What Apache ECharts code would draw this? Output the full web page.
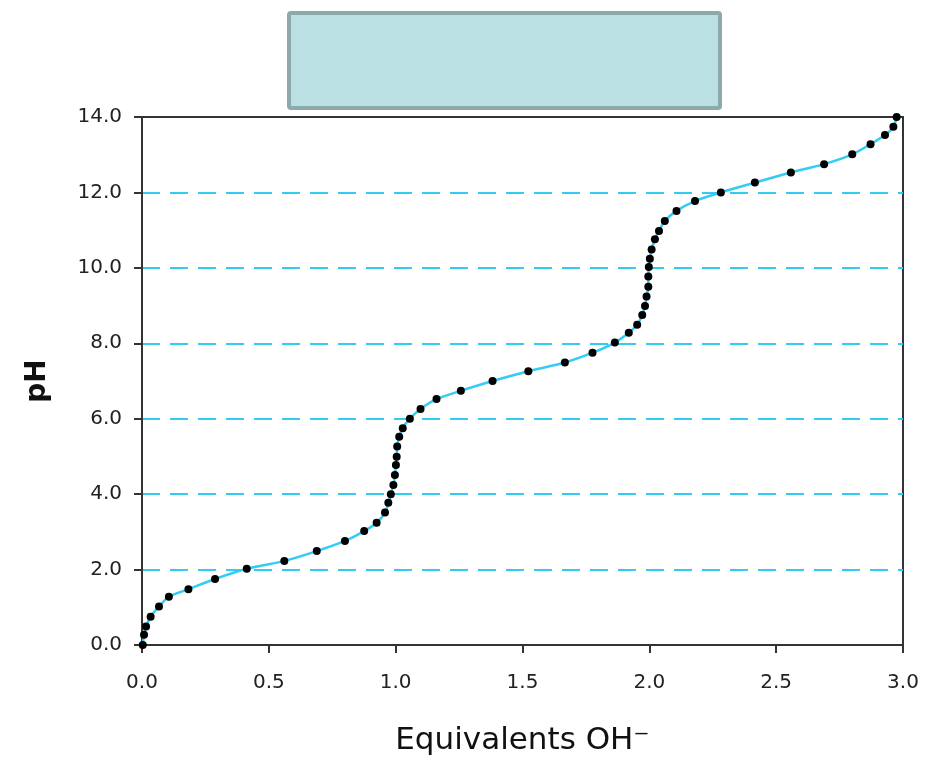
<!DOCTYPE html>
<html>
<head>
<meta charset="UTF-8">
<title>Titration curve</title>
<script src="https://cdn.jsdelivr.net/npm/echarts@6/dist/echarts.min.js"></script>
<style>
  html, body { margin: 0; padding: 0; background: #fff; }
  #chart { width: 929px; height: 761px; }
</style>
</head>
<body>
<div id="chart"></div>
<script>
// equivalents of OH- added
var equivalents = [0.003, 0.008, 0.016, 0.034, 0.067, 0.106, 0.183, 0.288, 0.413, 0.561, 0.689, 0.80,
    0.876, 0.925, 0.958, 0.971, 0.981, 0.991, 0.997, 1.001, 1.004, 1.006, 1.014, 1.028, 1.056, 1.098,
    1.161, 1.257, 1.382, 1.523, 1.667, 1.776, 1.864, 1.919, 1.952, 1.972, 1.983, 1.989, 1.996, 1.996,
    1.998, 2.002, 2.009, 2.022, 2.038, 2.061, 2.107, 2.180, 2.282, 2.416, 2.558, 2.689, 2.80, 2.872,
    2.929, 2.962, 2.975];
// measured pH
var pH = [0.0, 0.27, 0.49, 0.75, 1.02, 1.28, 1.48, 1.75, 2.02, 2.23, 2.49, 2.76,
    3.02, 3.24, 3.51, 3.77, 4.0, 4.24, 4.51, 4.77, 4.99, 5.26, 5.52, 5.75, 6.0, 6.26,
    6.52, 6.74, 7.0, 7.26, 7.49, 7.75, 8.02, 8.28, 8.49, 8.75, 8.99, 9.24, 9.50, 9.77,
    10.02, 10.24, 10.49, 10.76, 10.98, 11.24, 11.51, 11.77, 12.0, 12.26, 12.53, 12.75, 13.01, 13.28,
    13.52, 13.74, 14.0];

var points = [];
for (var i = 0; i < equivalents.length; i++) {
    points.push([equivalents[i], pH[i]]);
}

var chart = echarts.init(document.getElementById('chart'));
var labelFont = 'DejaVu Sans, Verdana, sans-serif';

chart.setOption({
    animation: false,
    grid: {
        left: 142, right: 26, top: 117, bottom: 116,
        outerBoundsMode: 'none',
        show: true, borderColor: '#333', borderWidth: 2, backgroundColor: '#fff'
    },
    // empty title box above the plot
    graphic: [{
        type: 'rect',
        shape: { x: 289, y: 13, width: 431, height: 95, r: 2 },
        style: { fill: '#bae0e3', stroke: '#8ea9aa', lineWidth: 4 }
    }],
    xAxis: {
        type: 'value', min: 0, max: 3, interval: 0.5,
        name: 'Equivalents OH\u207B', nameLocation: 'middle', nameGap: 80,
        nameTextStyle: { fontSize: 31, color: '#111', fontFamily: labelFont },
        axisLine: { show: true, lineStyle: { color: '#333', width: 2 } },
        axisTick: { show: true, length: 8, lineStyle: { color: '#333', width: 2 } },
        axisLabel: {
            color: '#222', fontSize: 20, margin: 28, fontFamily: labelFont,
            formatter: function (v) { return v.toFixed(1); }
        },
        splitLine: { show: false }
    },
    yAxis: {
        type: 'value', min: 0, max: 14, interval: 2,
        name: 'pH', nameLocation: 'middle', nameGap: 90, nameRotate: 90,
        nameTextStyle: { fontSize: 28, fontWeight: 'bold', color: '#111', fontFamily: labelFont },
        axisLine: { show: true, lineStyle: { color: '#333', width: 2 } },
        axisTick: { show: true, length: 8, lineStyle: { color: '#333', width: 2 } },
        axisLabel: {
            color: '#222', fontSize: 20, margin: 20, fontFamily: labelFont,
            formatter: function (v) { return v.toFixed(1); }
        },
        splitLine: {
            show: true, showMinLine: false, showMaxLine: false,
            lineStyle: { color: '#33ccf0', width: 2, type: [18, 10] }
        }
    },
    series: [{
        type: 'line',
        data: points,
        smooth: 0.3,
        symbol: 'circle',
        symbolSize: 8,
        itemStyle: { color: '#000' },
        lineStyle: { color: '#33ccf5', width: 2.5 },
        z: 5
    }]
});
</script>
</body>
</html>
